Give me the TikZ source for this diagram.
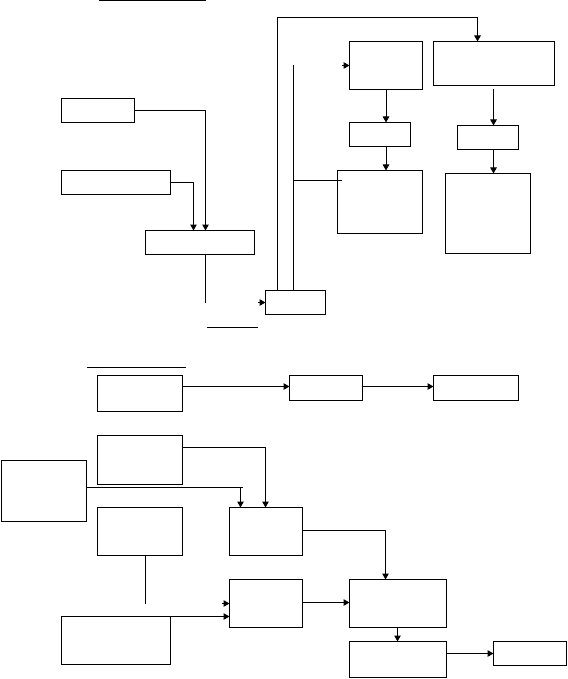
\documentclass[tikz,border=0pt]{standalone}
\usetikzlibrary{arrows.meta,fit}
\begin{document}
\begin{tikzpicture}[x=1pt,y=-1pt,line width=1pt,
  box/.style={draw,inner sep=0pt,outer sep=0pt},
  arr/.style={-{Triangle[length=6pt,width=6.5pt]}}]
\useasboundingbox (0,0) rectangle (567,679);
\begin{scope}[shift={(0.5,0.5)}]
% ---------- upper diagram ----------
\draw (98,0.5) -- (205,0.5);
\node[box,fit={(61,98) (134,122)}] (A) {};
\node[box,fit={(61,170) (170,194)}] (B) {};
\node[box,fit={(145,230) (254,254)}] (C) {};
\node[box,fit={(265,290) (325,314)}] (D) {};
\node[box,fit={(349,41) (422,89)}] (F) {};
\node[box,fit={(433,41) (554,85)}] (E) {};
\node[box,fit={(349,122) (410,146)}] (H) {};
\node[box,fit={(337,170) (422,233)}] (G) {};
\node[box,fit={(457,125) (518,149)}] (I) {};
\node[box,fit={(445,173) (530,253)}] (J) {};
\coordinate (ca) at (205,0);
\coordinate (cb) at (193,0);
\draw[arr] (A.east) -| (C.north -| ca);
\draw[arr] (B.east) -| (C.north -| cb);
\coordinate (c1) at (205,302);
\draw (C.south -| ca) -- (c1);
\draw (206,327) -- (257,327);
\coordinate (d0) at (257,302);
\draw[arr] (d0) -- (D.west);
\coordinate (dx) at (277,17);
\coordinate (ex) at (477,0);
\draw[arr] (D.north -| dx) -- (dx) -| (E.north -| ex);
\coordinate (v1) at (293,65);
\draw (D.north -| v1) -- (v1);
\coordinate (g0) at (293,180);
\coordinate (g1) at (341,180);
\draw (g0) -- (g1);
\coordinate (f0) at (341,65);
\draw[arr] (f0) -- (F.west);
\draw[arr] (F.south) -- (F.south |- H.north);
\draw[arr] (H.south -| F.south) -- (F.south |- G.north);
\coordinate (e0) at (493,89);
\draw[arr] (e0) -- (e0 |- I.north);
\draw[arr] (I.south -| e0) -- (e0 |- J.north);
% ---------- lower diagram ----------
\draw (86,367) -- (185,367);
\node[box,fit={(97,375) (182,411)}] (K) {};
\node[box,fit={(289,375) (362,400)}] (L) {};
\node[box,fit={(433,375) (518,400)}] (M) {};
\node[box,fit={(97,435) (182,484)}] (N) {};
\node[box,fit={(1,460) (86,521)}] (O) {};
\node[box,fit={(229,507) (302,555)}] (P) {};
\node[box,fit={(97,507) (182,555)}] (Q) {};
\node[box,fit={(61,616) (170,664)}] (R) {};
\node[box,fit={(229,579) (302,627)}] (S) {};
\node[box,fit={(349,579) (446,627)}] (T) {};
\node[box,fit={(349,641) (446,677)}] (U) {};
\node[box,fit={(493,641) (566,665)}] (V) {};
\coordinate (k0) at (182,386);
\draw[arr] (k0) -- (k0 -| L.west);
\draw[arr] (L.east |- k0) -- (k0 -| M.west);
\coordinate (n0) at (182,447);
\coordinate (px) at (265,0);
\draw[arr] (n0) -| (P.north -| px);
\coordinate (o0) at (86,487);
\coordinate (o1) at (242,487);
\coordinate (o2) at (240,486);
\draw (o0) -- (o1);
\draw[arr] (o2) -- (o2 |- P.north);
\coordinate (q0) at (145,555);
\coordinate (q1) at (145,603);
\draw (q0) -- (q1);
\draw[arr] (R.north east) -- (R.north east -| S.west);
\coordinate (s0) at (221,603);
\draw[arr] (s0) -- (s0 -| S.west);
\coordinate (p0) at (302,530);
\coordinate (tx) at (385,0);
\draw[arr] (p0) -| (T.north -| tx);
\coordinate (st) at (302,602);
\draw[arr] (st) -- (st -| T.west);
\coordinate (tu) at (397,0);
\draw[arr] (T.south -| tu) -- (U.north -| tu);
\coordinate (uv) at (446,653);
\draw[arr] (uv) -- (uv -| V.west);
\end{scope}
\end{tikzpicture}
\end{document}
